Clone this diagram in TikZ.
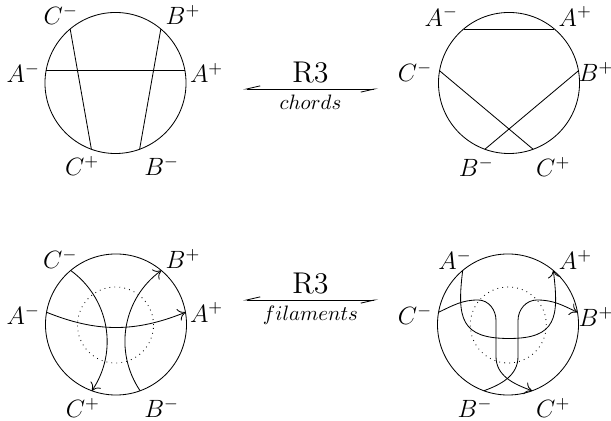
\documentclass[tikz,border=0pt]{standalone}
\usepackage{tikz}
\usetikzlibrary{positioning}
\usetikzlibrary{calc}
\usetikzlibrary{arrows.meta}
\usepackage{amsmath}

\begin{document}
\begin{tikzpicture}[x=0.48pt, y=0.48pt,
	disc/.style = {draw, circle, inner sep=0pt, outer sep=0pt, minimum size=67.7pt},
	core/.style = {draw, dotted, circle, inner sep=0pt, outer sep=0pt, minimum size=36.5pt},
	lbl/.style = {inner sep=0pt, font=\large},
	fil/.style = {-{Computer Modern Rightarrow[length=3.5pt, width=6pt]}},
	move/.style = {{Straight Barb[right, length=6.5pt, width=3pt]}-{Straight Barb[right, length=6.5pt, width=3pt]}},
	mlab/.style = {inner sep=2.5pt}]

\useasboundingbox (0,0) rectangle (611,421);

\node[disc] (tl) at (115.5,338) {};
\node[disc] (tr) at (509,338) {};
\node[disc] (bl) at (116,96.5) {};
\node[disc] (br) at (508,96.5) {};
\node[core] (blc) at (115.5,96) {};
\node[core] (brc) at (508.3,96) {};

\node[lbl] (tlCm) at ($(tl)+(-54.7,67.8)$) {$C^-$};
\node[lbl] (tlBp) at ($(tl)+(67.5,67.8)$) {$B^+$};
\node[lbl] (tlAm) at ($(tl)+(-92.2,10.3)$) {$A^-$};
\node[lbl] (tlAp) at ($(tl)+(91.2,10.3)$) {$A^+$};
\node[lbl] (tlCp) at ($(tl)+(-33.3,-83.4)$) {$C^+$};
\node[lbl] (tlBm) at ($(tl)+(46.2,-83.4)$) {$B^-$};

\node[lbl] (trAm) at ($(tr)+(-67.7,66.5)$) {$A^-$};
\node[lbl] (trAp) at ($(tr)+(66.3,66.5)$) {$A^+$};
\node[lbl] (trCm) at ($(tr)+(-94,10.8)$) {$C^-$};
\node[lbl] (trBp) at ($(tr)+(87,10.8)$) {$B^+$};
\node[lbl] (trBm) at ($(tr)+(-32.7,-84.2)$) {$B^-$};
\node[lbl] (trCp) at ($(tr)+(44.3,-84.2)$) {$C^+$};

\node[lbl] (blCm) at ($(bl)+(-55.7,65.5)$) {$C^-$};
\node[lbl] (blBp) at ($(bl)+(67,65.5)$) {$B^+$};
\node[lbl] (blAm) at ($(bl)+(-92.7,9.5)$) {$A^-$};
\node[lbl] (blAp) at ($(bl)+(90.7,12)$) {$A^+$};
\node[lbl] (blCp) at ($(bl)+(-33,-83.8)$) {$C^+$};
\node[lbl] (blBm) at ($(bl)+(45.7,-83.8)$) {$B^-$};

\node[lbl] (brAm) at ($(br)+(-53,64.5)$) {$A^-$};
\node[lbl] (brAp) at ($(br)+(67.5,64.5)$) {$A^+$};
\node[lbl] (brCm) at ($(br)+(-93,9.5)$) {$C^-$};
\node[lbl] (brBp) at ($(br)+(88,7.8)$) {$B^+$};
\node[lbl] (brBm) at ($(br)+(-33,-83.8)$) {$B^-$};
\node[lbl] (brCp) at ($(br)+(45.3,-83.8)$) {$C^+$};

\draw (tl.170) -- (tl.10);
\draw (tl.130) -- (tl.250);
\draw (tl.290) -- (tl.50);

\draw (tr.130) -- (tr.50);
\draw (tr.170) -- (tr.290);
\draw (tr.250) -- (tr.10);

\draw[fil] (bl.170) to[bend right=22] (bl.10);
\draw[fil] (bl.130) to[bend left=44] (bl.250);
\draw[fil] (bl.290) to[bend left=44] (bl.50);

\draw[fil] (br.130) to[out=-97, in=180, looseness=1.5] ($(br)+(1,-14)$) to[out=0, in=-83, looseness=1.5] (br.50);
\draw[fil] (br.170) to[out=25, in=180] ($(br)+(-30,24.5)$) to[out=0, in=90] ($(br)+(-12,4)$) -- ($(br)+(-12,-32)$) to[out=-90, in=160] (br.290);
\draw[fil] (br.250) to[out=20, in=-90] ($(br)+(10,-32)$) -- ($(br)+(10,4)$) to[out=90, in=180] ($(br)+(29,24.5)$) to[out=0, in=155] (br.10);

\coordinate (m1l) at (243,332);
\coordinate (m1r) at (378,332);
\draw[move] (m1l) -- node[mlab, above, font=\Large] (m1t) {R3} node[mlab, below] (m1b) {$chords$} (m1r);

\coordinate (m2l) at (243,121);
\coordinate (m2r) at (378,121);
\draw[move] (m2l) -- node[mlab, above, font=\Large] (m2t) {R3} node[mlab, below] (m2b) {$filaments$} (m2r);

\end{tikzpicture}
\end{document}
